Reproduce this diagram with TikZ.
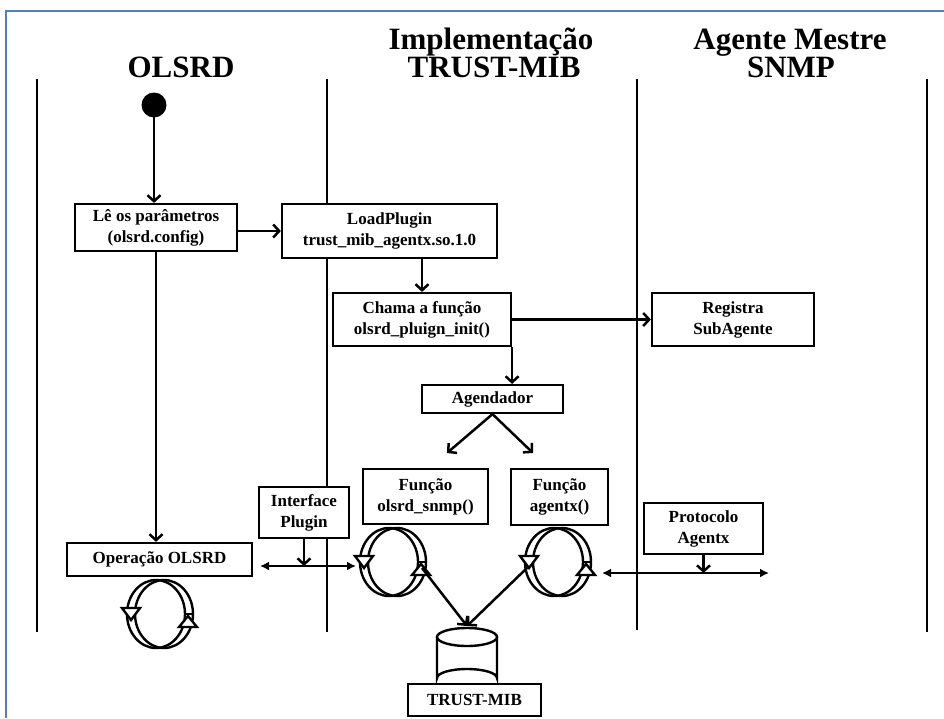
\documentclass[tikz,border=0pt]{standalone}
\usepackage{fontspec}
\setmainfont{Liberation Serif}
\usetikzlibrary{arrows.meta}

\definecolor{framebl}{RGB}{79,129,189}
\newcommand\boxfont{\fontsize{17}{21}\selectfont\bfseries}
\newcommand\headfont{\fontsize{31}{31}\selectfont\bfseries}

\tikzset{
  box/.style={draw, line width=2.2pt, fill=white, inner sep=0pt, align=center, font=\boxfont},
  lane/.style={line width=1.5pt},
  conn/.style={line width=2.5pt, -{Straight Barb[length=6pt,width=13pt]}},
  dbl/.style={line width=2.5pt, {Latex[length=9pt,width=9pt]}-{Latex[length=9pt,width=9pt]}},
  heading/.style={font=\headfont, anchor=base, inner sep=0pt},
  cycline/.style={line width=2.4pt, line join=miter},
  cycleicon/.pic={
    \draw[cycline] (-4,0) ellipse [x radius=29, y radius=34];
    \draw[cycline] (4,0) ellipse [x radius=29, y radius=34];
    \draw[cycline] (25,0) -- (33,0);
    \draw[cycline, fill=white] (-38,-6) -- (-20,-6) -- (-29,6) -- cycle;
    \draw[cycline, fill=white] (19,13) -- (37,13) -- (28,2) -- cycle;
    \coordinate (-r) at (29,6);
    \coordinate (-l) at (-30,5);
  }
}

\begin{document}
\begin{tikzpicture}[x=1pt,y=-1pt]
\useasboundingbox (0,0) rectangle (944,718);
\fill[white] (0,0) rectangle (944,718);

% outer frame (only its top and left edges fall inside the page)
\draw[framebl, line width=2pt] (944,11) -- (6,11) -- (6,718);

% swimlane separators
\draw[lane] (37,79) -- (37,632);
\draw[lane] (327,79) -- (327,632);
\draw[lane] (637,79) -- (637,630);
\draw[lane] (927,79) -- (927,632);

% lane headings
\node[heading] (hOlsrd) at (181,77) {OLSRD};
\node[heading] (hImpl)  at (491,49) {Implementação};
\node[heading] (hTrust) at (494,77) {TRUST-MIB};
\node[heading] (hAgent) at (790,49) {Agente Mestre};
\node[heading] (hSnmp)  at (791,77) {SNMP};

% initial state
\fill (154,105) circle [radius=12.5];
\coordinate (dot) at (154,117);

% activities
\node[box, minimum width=162pt, minimum height=47pt] (le)    at (156,227.5) {Lê os parâmetros\\(olsrd.config)};
\node[box, minimum width=215pt, minimum height=54pt] (load)  at (389.5,231) {LoadPlugin\\trust\_mib\_agentx.so.1.0};
\node[box, minimum width=178pt, minimum height=53pt] (chama) at (422,319.5) {Chama a função\\olsrd\_pluign\_init()};
\node[box, minimum width=162pt, minimum height=53pt] (reg)   at (733,319.5) {Registra\\SubAgente};
\node[box, minimum width=141pt, minimum height=28pt] (agend) at (492.5,399) {Agendador};
\node[box, minimum width=125pt, minimum height=55pt] (fsnmp) at (425.5,496.5) {Função\\olsrd\_snmp()};
\node[box, line width=2.8pt, minimum width=97pt, minimum height=56pt] (fagx) at (559.5,497) {Função\\agentx()};
\node[box, minimum width=90pt, minimum height=51pt]  (iface) at (304,512.5) {Interface\\Plugin};
\node[box, minimum width=185pt, minimum height=33pt] (oper)  at (159.5,559.5) {Operação OLSRD};
\node[box, minimum width=119pt, minimum height=51pt] (proto) at (703.5,528.5) {Protocolo\\Agentx};
\node[box, minimum width=133pt, minimum height=32pt] (mib)   at (474.5,700) {TRUST-MIB};

% repeating-loop icons
\pic (cycO) at (160,614) {cycleicon};
\pic (cycA) at (393,562) {cycleicon};
\pic (cycB) at (558,562) {cycleicon};

% database cylinder
\draw[line width=2.4pt, fill=white]
  (437,637) -- (437,678) arc [start angle=180, end angle=360, x radius=30, y radius=9]
  -- (497,637);
\draw[line width=2.4pt, fill=white] (467,637) ellipse [x radius=30, y radius=9];
\coordinate (cyl) at (467,626);

% free ends of the scheduler arrows and of the two buses
\coordinate (schL) at (447,453);
\coordinate (schR) at (533,453);
\coordinate (busAw) at (260,566);
\coordinate (busAe) at (356,566);
\coordinate (busBw) at (602,573);
\coordinate (busBe) at (769,573);

% control flow
\draw[conn] (dot) -- (dot |- le.north);
\draw[conn] (le.east |- load.west) -- (load.west);
\draw[conn] (le.south) -- (le.south |- oper.north);
\draw[conn] (chama.north |- load.south) -- (chama.north);
\draw[conn] (chama.east) -- (reg.west |- chama.east);
\draw[conn] (chama.south east) -- (chama.south east |- agend.north);
\draw[conn] (agend.south) -- (schL);
\draw[conn] (agend.south) -- (schR);
\draw[dbl] (busAw) -- (busAe);
\draw[conn] (iface.south) -- (iface.south |- busAw);
\draw[dbl] (busBw) -- (busBe);
\draw[conn] (proto.south) -- (proto.south |- busBw);
\draw[conn] (cycA-r) -- (cyl);
\draw[conn] (cycB-l) -- (cyl);
\end{tikzpicture}
\end{document}
